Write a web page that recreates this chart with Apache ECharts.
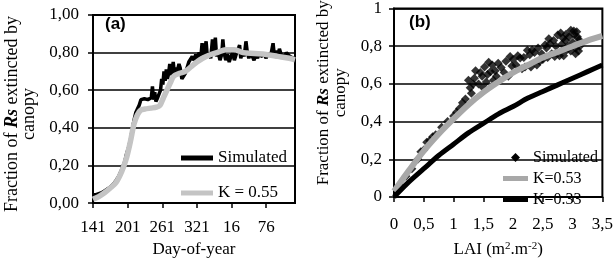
<!DOCTYPE html>
<html>
<head>
<meta charset="utf-8">
<script src="https://cdn.jsdelivr.net/npm/echarts@6.0.0/dist/echarts.min.js"></script>
<style>
  html, body { margin: 0; padding: 0; background: #fff; }
  #chart { width: 616px; height: 263px; }
</style>
</head>
<body>
<div id="chart"></div>
<script>
// (a) days counted from day-of-year 141
var dayLabels = ["141", "201", "261", "321", "16", "76"];

var simA = [
  [0, 0.045], [5, 0.045], [10, 0.05], [15, 0.055], [20, 0.065], [25, 0.075], [30, 0.085],
  [35, 0.1], [40, 0.12], [45, 0.145], [50, 0.18], [55, 0.22], [58, 0.26], [62, 0.3],
  [65, 0.34], [68, 0.39], [71, 0.44], [74, 0.48], [77, 0.5], [80, 0.52], [83, 0.55],
  [86, 0.56], [89, 0.555], [92, 0.56], [95, 0.55], [98, 0.545], [101, 0.56], [103, 0.62],
  [105, 0.55], [107, 0.59], [109, 0.54], [112, 0.56], [115, 0.585], [117, 0.6], [119, 0.66],
  [121, 0.63], [123, 0.7], [125, 0.65], [127, 0.71], [129, 0.66], [131, 0.69], [133, 0.74],
  [135, 0.68], [137, 0.7], [139, 0.75], [141, 0.69], [143, 0.72], [146, 0.7], [149, 0.74],
  [151, 0.72], [154, 0.66], [157, 0.67], [160, 0.69], [163, 0.72], [166, 0.75], [169, 0.74],
  [172, 0.78], [175, 0.76], [178, 0.79], [181, 0.77], [184, 0.8], [187, 0.78], [189, 0.85],
  [191, 0.79], [194, 0.82], [196, 0.86], [198, 0.78], [201, 0.8], [204, 0.77], [207, 0.87],
  [209, 0.79], [212, 0.88], [214, 0.78], [217, 0.8], [220, 0.76], [223, 0.79], [225, 0.87],
  [227, 0.8], [230, 0.76], [233, 0.79], [236, 0.75], [239, 0.78], [242, 0.8], [245, 0.76],
  [248, 0.79], [251, 0.78], [254, 0.84], [256, 0.77], [259, 0.8], [262, 0.78], [265, 0.86],
  [267, 0.81], [270, 0.77], [273, 0.8], [276, 0.78], [279, 0.76], [282, 0.79], [285, 0.77],
  [288, 0.8], [291, 0.78], [294, 0.77], [297, 0.79], [300, 0.77], [303, 0.8], [306, 0.78],
  [309, 0.8], [312, 0.85], [314, 0.79], [317, 0.81], [320, 0.78], [323, 0.82], [326, 0.79],
  [329, 0.8], [332, 0.78], [335, 0.8], [338, 0.79], [341, 0.78], [344, 0.79], [347, 0.77],
  [350, 0.77]
];

var k55A = [
  [0, 0.02], [10, 0.035], [20, 0.055], [30, 0.08], [40, 0.11], [50, 0.17], [58, 0.24],
  [65, 0.33], [71, 0.42], [77, 0.47], [83, 0.495], [90, 0.5], [100, 0.505], [110, 0.51],
  [116, 0.52], [122, 0.56], [128, 0.6], [134, 0.64], [140, 0.675], [150, 0.69], [160, 0.7],
  [170, 0.725], [180, 0.75], [190, 0.77], [200, 0.785], [215, 0.8], [230, 0.815],
  [245, 0.815], [260, 0.8], [280, 0.795], [300, 0.79], [320, 0.78], [340, 0.77], [350, 0.762]
];

// (b) fraction vs LAI
var simB = [
  [0.05, 0.04], [0.1, 0.06], [0.2, 0.11], [0.3, 0.15], [0.4, 0.2], [0.45, 0.24], [0.5, 0.25],
  [0.55, 0.29], [0.6, 0.3], [0.65, 0.32], [0.7, 0.33], [0.8, 0.37], [0.9, 0.4], [1.0, 0.43],
  [1.05, 0.45], [1.1, 0.47], [1.15, 0.5], [1.2, 0.52], [1.25, 0.62], [1.28, 0.58], [1.3, 0.55],
  [1.33, 0.6], [1.35, 0.63], [1.37, 0.67], [1.42, 0.6], [1.45, 0.66], [1.48, 0.64], [1.5, 0.58],
  [1.52, 0.69], [1.55, 0.61], [1.57, 0.65], [1.59, 0.715], [1.62, 0.665], [1.65, 0.7],
  [1.67, 0.62], [1.7, 0.67], [1.72, 0.64], [1.75, 0.71], [1.8, 0.687], [1.85, 0.66],
  [1.88, 0.72], [1.92, 0.64], [1.95, 0.746], [1.98, 0.695], [2.0, 0.73], [2.05, 0.7],
  [2.08, 0.75], [2.12, 0.738], [2.15, 0.68], [2.18, 0.74], [2.2, 0.69], [2.24, 0.778],
  [2.28, 0.755], [2.3, 0.69], [2.32, 0.78], [2.36, 0.766], [2.4, 0.7], [2.42, 0.79],
  [2.45, 0.72], [2.48, 0.76], [2.5, 0.73], [2.54, 0.808], [2.56, 0.79], [2.58, 0.74],
  [2.6, 0.84], [2.62, 0.813], [2.65, 0.76], [2.68, 0.83], [2.7, 0.745], [2.72, 0.8],
  [2.75, 0.859], [2.78, 0.75], [2.8, 0.87], [2.82, 0.81], [2.84, 0.842], [2.85, 0.75],
  [2.88, 0.83], [2.89, 0.864], [2.9, 0.78], [2.92, 0.8], [2.94, 0.85], [2.97, 0.884],
  [2.97, 0.775], [3.0, 0.82], [3.02, 0.88], [3.03, 0.859], [3.05, 0.79], [3.05, 0.76],
  [3.07, 0.876], [3.08, 0.85], [3.1, 0.775], [3.11, 0.834], [3.12, 0.8], [3.13, 0.82]
];

var k53B = [
  [0, 0.03], [0.25, 0.14], [0.5, 0.245], [0.75, 0.335], [1, 0.415], [1.25, 0.49], [1.5, 0.555],
  [1.75, 0.61], [2, 0.66], [2.25, 0.7], [2.5, 0.74], [2.75, 0.77], [3, 0.8], [3.25, 0.83],
  [3.5, 0.855]
];

var k33B = [
  [0, 0], [0.25, 0.08], [0.5, 0.15], [0.75, 0.22], [1, 0.28], [1.25, 0.34], [1.5, 0.39],
  [1.75, 0.44], [2, 0.48], [2.25, 0.525], [2.5, 0.56], [2.75, 0.595], [3, 0.63],
  [3.25, 0.665], [3.5, 0.7]
];

var serif = "Liberation Serif";
var lineIcon = "path://M0,0H25V5H0Z";
var diamondIcon = "path://M5,0L10,5L5,10L0,5Z";

function comma(v) {
  return String(+v.toFixed(1)).replace(".", ",");
}

var axisCommon = {
  axisLine: { lineStyle: { color: "#000", width: 2 } },
  axisTick: { show: true, inside: false, length: 5, lineStyle: { color: "#000", width: 1.5 } },
  axisLabel: { color: "#000", fontFamily: serif, fontSize: 17 },
  nameTextStyle: { color: "#000", fontFamily: serif, fontSize: 17 }
};

var yName = "Fraction of {rs|Rs} extincted by\ncanopy";

function richRs(size) {
  return { rs: { fontFamily: serif, fontSize: size, fontWeight: "bold", fontStyle: "italic", color: "#000" } };
}

var chart = echarts.init(document.getElementById("chart"));

var option = {
  animation: false,
  backgroundColor: "#fff",
  title: [
    {
      text: "(a)", left: 105, top: 16, padding: 0,
      textStyle: { fontFamily: "Liberation Sans", fontSize: 17, fontWeight: "bold", color: "#000" }
    },
    {
      text: "(b)", left: 409, top: 14, padding: 0,
      textStyle: { fontFamily: "Liberation Sans", fontSize: 17, fontWeight: "bold", color: "#000" }
    }
  ],
  grid: [
    { left: 93, top: 15, width: 202, height: 197, show: true, borderColor: "#000", borderWidth: 2 },
    { left: 394, top: 4, width: 211, height: 199, show: true, borderColor: "#000", borderWidth: 2 }
  ],
  legend: [
    {
      left: 176, top: 144, orient: "vertical", selectedMode: false,
      itemWidth: 32, itemHeight: 5, itemGap: 17,
      textStyle: { fontFamily: serif, fontSize: 17, color: "#000", lineHeight: 18 },
      data: [
        { name: "Simulated", icon: "rect", itemStyle: { color: "#000", borderWidth: 0 } },
        { name: "K = 0.55", icon: "rect", itemStyle: { color: "#c4c4c4", borderWidth: 0 } }
      ]
    },
    {
      left: 498, top: 144, orient: "vertical", selectedMode: false,
      itemWidth: 25, itemHeight: 9, itemGap: 4,
      textStyle: { fontFamily: serif, fontSize: 16, color: "#000", lineHeight: 17 },
      data: [
        { name: "Simulated", icon: diamondIcon, itemStyle: { color: "#000", borderWidth: 0 } },
        { name: "K=0.53", icon: lineIcon, itemStyle: { color: "#a8a8a8", borderWidth: 0 } },
        { name: "K=0.33", icon: lineIcon, itemStyle: { color: "#000", borderWidth: 0 } }
      ]
    }
  ],
  xAxis: [
    Object.assign({}, axisCommon, {
      type: "value", gridIndex: 0, min: 0, max: 350, interval: 60,
      splitLine: { show: false },
      name: "Day-of-year", nameLocation: "middle", nameGap: 36,
      axisLabel: Object.assign({}, axisCommon.axisLabel, {
        margin: 16, showMaxLabel: false,
        formatter: function (v) { return dayLabels[Math.round(v / 60)] || ""; }
      })
    }),
    Object.assign({}, axisCommon, {
      type: "value", gridIndex: 1, min: 0, max: 3.5, interval: 0.5,
      splitLine: { show: false },
      name: "LAI (m{sup|2}.m{sup|-2})", nameLocation: "middle", nameGap: 44,
      nameTextStyle: Object.assign({}, axisCommon.nameTextStyle, {
        rich: { sup: { fontFamily: serif, fontSize: 11, color: "#000", verticalAlign: "top" } }
      }),
      axisLabel: Object.assign({}, axisCommon.axisLabel, { margin: 19, formatter: comma })
    })
  ],
  yAxis: [
    Object.assign({}, axisCommon, {
      type: "value", gridIndex: 0, min: 0, max: 1, interval: 0.2,
      splitLine: { show: true, lineStyle: { color: "#000", width: 1.5 } },
      name: yName, nameLocation: "middle", nameGap: 55,
      nameTextStyle: Object.assign({}, axisCommon.nameTextStyle, {
        fontSize: 18, lineHeight: 17, rich: richRs(18), padding: [0, 10, 0, 0]
      }),
      axisLabel: Object.assign({}, axisCommon.axisLabel, {
        margin: 14,
        formatter: function (v) { return v.toFixed(2).replace(".", ","); }
      })
    }),
    Object.assign({}, axisCommon, {
      type: "value", gridIndex: 1, min: 0, max: 1, interval: 0.2,
      splitLine: { show: true, lineStyle: { color: "#000", width: 1.5 } },
      name: yName, nameLocation: "middle", nameGap: 45,
      nameTextStyle: Object.assign({}, axisCommon.nameTextStyle, {
        lineHeight: 17, rich: richRs(17), padding: [0, 0, 0, 20]
      }),
      axisLabel: Object.assign({}, axisCommon.axisLabel, { margin: 12, formatter: comma })
    })
  ],
  series: [
    {
      name: "Simulated", type: "line", xAxisIndex: 0, yAxisIndex: 0,
      data: simA, showSymbol: false, color: "#000",
      lineStyle: { color: "#000", width: 3.5 }, z: 2
    },
    {
      name: "K = 0.55", type: "line", xAxisIndex: 0, yAxisIndex: 0,
      data: k55A, showSymbol: false, smooth: 0.3, color: "#c4c4c4",
      lineStyle: { color: "#c4c4c4", width: 5.5 }, z: 3
    },
    {
      name: "Simulated", type: "scatter", xAxisIndex: 1, yAxisIndex: 1,
      data: simB, symbol: "diamond", symbolSize: 9, color: "#000",
      itemStyle: { color: "#000" }, z: 2
    },
    {
      name: "K=0.53", type: "line", xAxisIndex: 1, yAxisIndex: 1,
      data: k53B, showSymbol: false, smooth: 0.3, color: "#a8a8a8",
      lineStyle: { color: "#a8a8a8", width: 6 }, z: 3
    },
    {
      name: "K=0.33", type: "line", xAxisIndex: 1, yAxisIndex: 1,
      data: k33B, showSymbol: false, smooth: 0.3, color: "#000",
      lineStyle: { color: "#000", width: 5 }, z: 3
    }
  ]
};

chart.setOption(option);
</script>
</body>
</html>
